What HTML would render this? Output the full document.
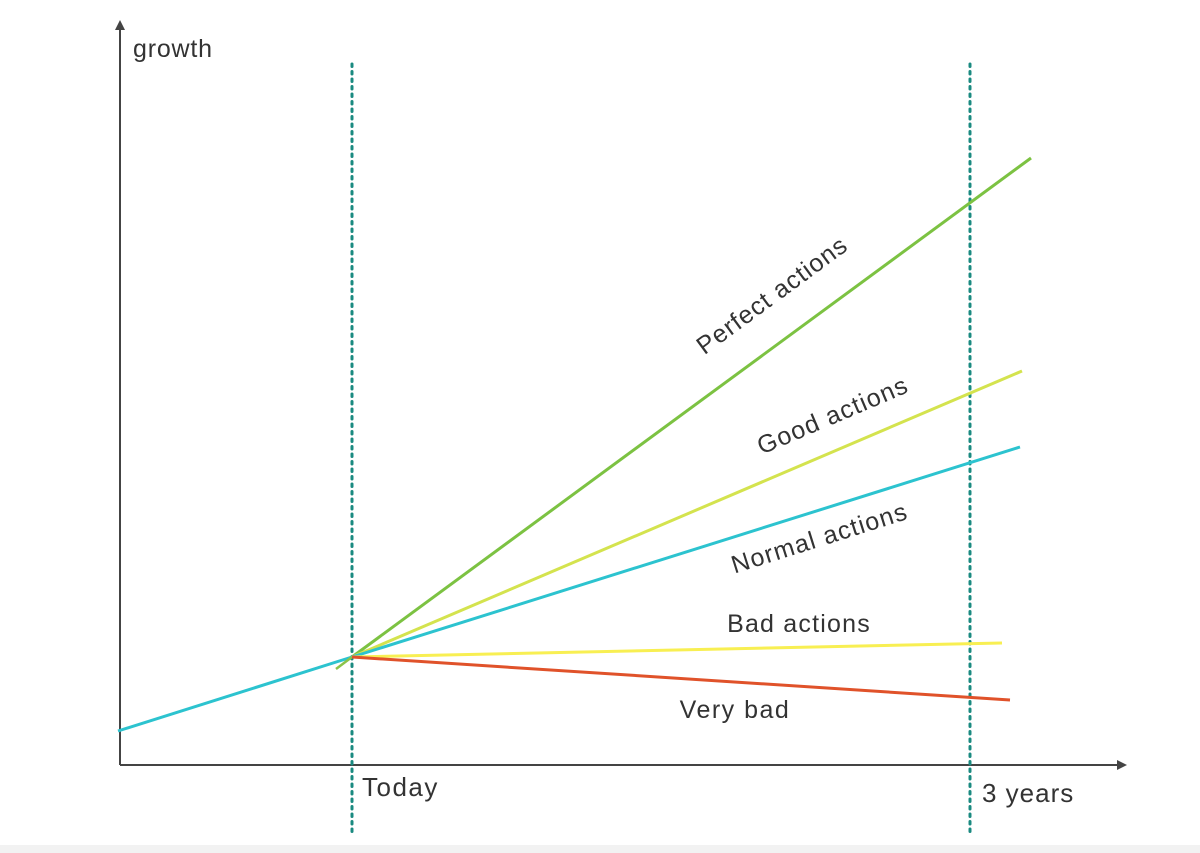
<!DOCTYPE html>
<html><head><style>
html,body{margin:0;padding:0;background:#fff;}
svg{display:block;}
text{font-family:"Liberation Sans",sans-serif;fill:#333;}
</style></head><body>
<svg width="1200" height="853" viewBox="0 0 1200 853">
<rect width="1200" height="853" fill="#fff"/>
<rect y="845" width="1200" height="8" fill="#f2f2f2"/>
<line x1="120" y1="28" x2="120" y2="765" stroke="#444" stroke-width="2"/>
<polygon points="120,20 115,30 125,30" fill="#444"/>
<line x1="120" y1="765" x2="1118" y2="765" stroke="#444" stroke-width="2"/>
<polygon points="1127,765 1117,760 1117,770" fill="#444"/>
<line x1="352" y1="64" x2="352" y2="832" stroke="#1a8a80" stroke-width="3" stroke-dasharray="2.5 5" stroke-linecap="round"/>
<line x1="970" y1="64" x2="970" y2="832" stroke="#1a8a80" stroke-width="3" stroke-dasharray="2.5 5" stroke-linecap="round"/>
<line x1="118" y1="731" x2="352" y2="657" stroke="#2cc3cf" stroke-width="3"/>
<line x1="336" y1="669" x2="352" y2="657" stroke="#8bc34a" stroke-width="2.5"/>
<line x1="352" y1="657" x2="1031" y2="158" stroke="#7cc242" stroke-width="3"/>
<line x1="352" y1="657" x2="1022" y2="371" stroke="#d4e34e" stroke-width="3"/>
<line x1="352" y1="657" x2="1020" y2="447" stroke="#2cc3cf" stroke-width="3"/>
<line x1="352" y1="657" x2="1002" y2="643" stroke="#f8ef52" stroke-width="3"/>
<line x1="352" y1="657" x2="1010" y2="700" stroke="#e0522a" stroke-width="3"/>
<text x="133" y="57" font-size="25" letter-spacing="0.8">growth</text>
<text x="362" y="796" font-size="26" letter-spacing="1.5">Today</text>
<text x="982" y="802" font-size="26" letter-spacing="1">3 years</text>
<text transform="translate(777,302) rotate(-36.3)" text-anchor="middle" font-size="25" letter-spacing="1">Perfect actions</text>
<text transform="translate(836,423) rotate(-23.1)" text-anchor="middle" font-size="25" letter-spacing="1.2">Good actions</text>
<text transform="translate(822,546) rotate(-17.5)" text-anchor="middle" font-size="25" letter-spacing="1.2">Normal actions</text>
<text x="799" y="632" text-anchor="middle" font-size="25" letter-spacing="1.2">Bad actions</text>
<text x="735" y="718" text-anchor="middle" font-size="25" letter-spacing="1.5">Very bad</text>
</svg>
</body></html>
